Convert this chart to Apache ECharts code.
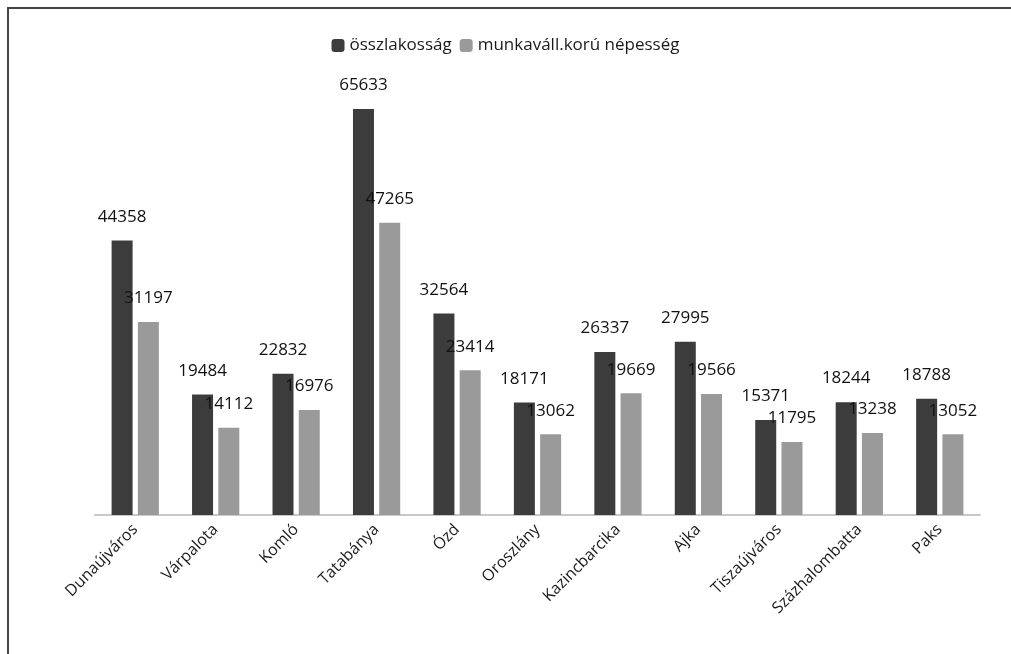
<!DOCTYPE html>
<html><head><meta charset="utf-8">
<script src="https://cdn.jsdelivr.net/npm/echarts@6/dist/echarts.min.js"></script>
<style>
html,body{margin:0;padding:0;background:#fff;}
#frame{position:absolute;left:7px;top:7px;width:1004px;height:647px;border-left:2px solid #444;border-top:2px solid #444;box-sizing:border-box;}
#c{position:absolute;left:0;top:0;width:1011px;height:654px;}
</style></head>
<body>
<div id="frame"></div>
<div id="c"></div>
<script>
var categories = ['Dunaújváros','Várpalota','Komló','Tatabánya','Ózd','Oroszlány','Kazincbarcika','Ajka','Tiszaújváros','Százhalombatta','Paks'];
var seriesNames = ['összlakosság','munkaváll.korú népesség'];
var total = [44358,19484,22832,65633,32564,18171,26337,27995,15371,18244,18788];
var working = [31197,14112,16976,47265,23414,13062,19669,19566,11795,13238,13052];

var chart = echarts.init(document.getElementById('c'));
var font = '"Open Sans", Lato, sans-serif';
chart.setOption({
  animation:false,
  legend:{top:32,left:'center',itemWidth:13,itemHeight:13,itemGap:8,
    textStyle:{fontFamily:font,fontSize:17,color:'#1a1a1a'},
    data:seriesNames},
  grid:{left:95,right:31,top:82,bottom:139},
  xAxis:{type:'category',data:categories,
    axisLine:{lineStyle:{color:'#c8c8c8',width:2}},
    axisTick:{show:false},
    axisLabel:{rotate:45,interval:0,fontFamily:font,fontSize:16,color:'#1a1a1a',margin:12}},
  yAxis:{type:'value',min:0,max:70000,show:false,splitLine:{show:false}},
  series:[
    {name:seriesNames[0],type:'bar',data:total,barWidth:21,barGap:'25%',
      itemStyle:{color:'#3c3c3c'},
      label:{show:true,position:'top',distance:15,fontFamily:font,fontSize:17,color:'#111'}},
    {name:seriesNames[1],type:'bar',data:working,barWidth:21,barGap:'25%',
      itemStyle:{color:'#9a9a9a'},
      label:{show:true,position:'top',distance:15,fontFamily:font,fontSize:17,color:'#111'}}
  ]
});
</script>
</body></html>
